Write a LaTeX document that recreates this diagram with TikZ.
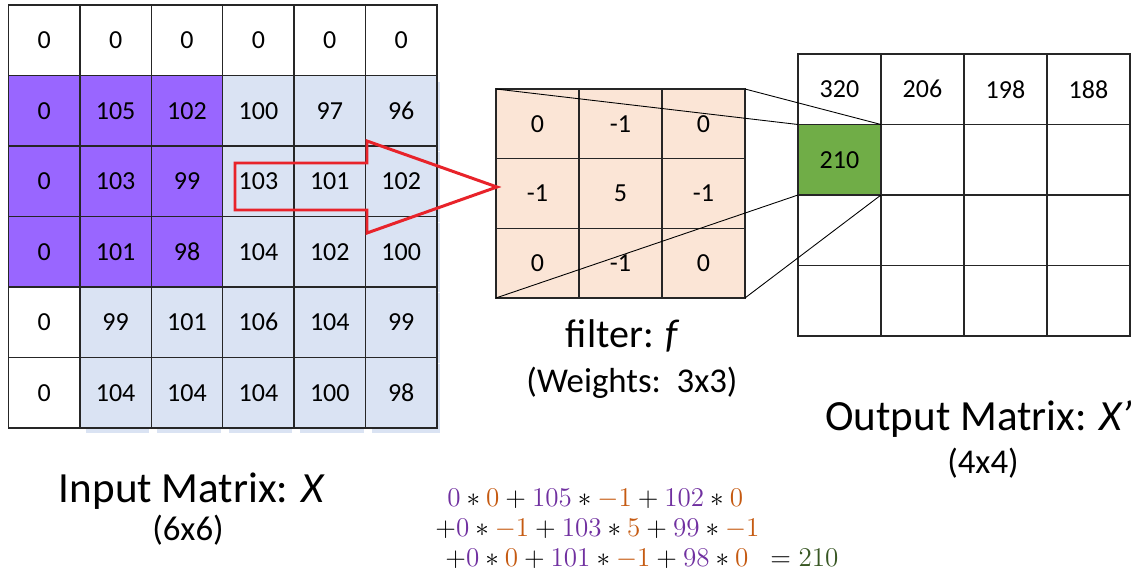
\documentclass[tikz,border=0pt]{standalone}
\usepackage[no-math]{fontspec}
\setmainfont{Carlito}
\usepackage{xcolor}
\usepackage{tikz}
\usetikzlibrary{positioning,calc}
\definecolor{gridLine}{HTML}{262626}
\definecolor{purpleFill}{HTML}{9966FF}
\definecolor{blueFill}{HTML}{DAE3F3}
\definecolor{peachFill}{HTML}{FBE5D6}
\definecolor{greenFill}{HTML}{70AD47}
\definecolor{arrowRed}{HTML}{E8232A}
\definecolor{eqPurple}{HTML}{7030A0}
\definecolor{eqOrange}{HTML}{C55A11}
\definecolor{eqGreen}{HTML}{385723}
\newcommand{\inval}[1]{\textcolor{eqPurple}{#1}}
\newcommand{\wval}[1]{\textcolor{eqOrange}{#1}}
\tikzset{
  cell/.style={
    rectangle, draw=gridLine, line width=0.9pt,
    inner sep=0pt, outer sep=0pt, anchor=north west,
    font=\fontsize{14.8}{16}\selectfont
  },
  in cell/.style={cell, minimum width=1.428cm, minimum height=1.41cm},
  filter cell/.style={cell, fill=peachFill,
    minimum width=1.66cm, minimum height=1.393cm},
  out cell/.style={cell, minimum width=1.66cm, minimum height=1.41cm},
  title label/.style={anchor=base, inner sep=0pt,
    font=\fontsize{24.5}{28}\selectfont},
  filter label/.style={anchor=base, inner sep=0pt,
    font=\fontsize{22.8}{26}\selectfont},
  size label/.style={anchor=base, inner sep=0pt,
    font=\fontsize{19.8}{22}\selectfont},
  eq line/.style={anchor=base west, inner sep=0pt,
    scale=1.07, transform shape,
    font=\fontsize{14.4}{17}\selectfont},
  link/.style={line width=0.5pt, black},
}

\begin{document}
\begin{tikzpicture}
    \useasboundingbox (0,0) rectangle (22.86,-11.46);

    % Input matrix X (zero padded)
    \foreach \rowvals [count=\row from 0] in
      {{0,0,0,0,0,0},{0,105,102,100,97,96},{0,103,99,103,101,102},
       {0,101,98,104,102,100},{0,99,101,106,104,99},{0,104,104,104,100,98}}{
      \foreach \v [count=\col from 0] in \rowvals {
        \pgfmathsetmacro\cx{0.17+\col*1.428}
        \pgfmathsetmacro\cy{-0.10-\row*1.41}
        \def\cellfill{white}
        \ifnum\row>0 \ifnum\col>2 \def\cellfill{blueFill}\fi\fi
        \ifnum\row>3 \ifnum\col>0 \def\cellfill{blueFill}\fi\fi
        \ifnum\row>0 \ifnum\row<4 \ifnum\col<3 \def\cellfill{purpleFill}\fi\fi\fi
        \def\blue{blueFill}
        \ifx\cellfill\blue
          \def\sx{-0.04}\ifnum\col=5 \def\sx{0.06}\fi
          \fill[blueFill] (\cx+0.12,\cy-0.12) rectangle (\cx+1.428+\sx,\cy-1.51);
        \fi
        \node[in cell, fill=\cellfill] (in-\row-\col) at (\cx,\cy) {\v};
      }
    }

    % Filter f
    \foreach \rowvals [count=\row from 0] in {{0,-1,0},{-1,5,-1},{0,-1,0}}{
      \foreach \v [count=\col from 0] in \rowvals {
        \node[filter cell] (f-\row-\col) at ({9.92+\col*1.66},{-1.78-\row*1.393}) {\v};
      }
    }

    % Output matrix X'
    \foreach \rowvals [count=\row from 0] in
      {{320,206,198,188},{210,{},{},{}},{{},{},{},{}},{{},{},{},{}}}{
      \foreach \v [count=\col from 0] in \rowvals {
        \def\cellfill{white}
        \ifnum\row=1 \ifnum\col=0 \def\cellfill{greenFill}\fi\fi
        \node[out cell, fill=\cellfill] (out-\row-\col)
          at ({15.96+\col*1.66},{-1.08-\row*1.41}) {\v};
      }
    }

    % Block arrow over the input rows
    \draw[arrowRed, line width=1.7pt]
      (4.70,-3.26) -- (7.34,-3.26) -- (7.34,-2.82) -- (9.94,-3.74)
      -- (7.34,-4.66) -- (7.34,-4.20) -- (4.70,-4.20) -- cycle;

    % Filter corners to the output cell
    \draw[link] (f-0-0.north west) -- (out-1-0.north west);
    \draw[link] (f-0-2.north east) -- (out-1-0.north east);
    \draw[link] (f-2-0.south west) -- (out-1-0.south west);
    \draw[link] (f-2-2.south east) -- (out-1-0.south east);

    % Labels
    \node[title label] (inname) at (3.84,-10.04) {Input Matrix: \textit{X}};
    \node[size label] (insize) at (3.76,-10.80) {(6x6)};
    \node[filter label] (fname) at (12.46,-6.94) {filter: \textit{f}};
    \node[size label] (fsize) at (12.64,-7.84) {(Weights:\ \ 3x3)};
    \node[title label] (outname) at (19.58,-8.60) {Output Matrix: \textit{X'}};
    \node[size label] (outsize) at (19.66,-9.46) {(4x4)};

    % Worked sum for the green cell
    \node[eq line] (eq1) at (8.94,-10.12)
      {$\inval{0} * \wval{0} + \inval{105} * \wval{-1} + \inval{102} * \wval{0}$};
    \node[eq line] (eq2) at (8.70,-10.72)
      {$+\inval{0} * \wval{-1} + \inval{103} * \wval{5} + \inval{99} * \wval{-1}$};
    \node[eq line] (eq3) at (8.90,-11.32)
      {$+\inval{0} * \wval{0} + \inval{101} * \wval{-1} + \inval{98} * \wval{0}$};
    \node[eq line] (eqres) at (15.40,-11.32) {$= \textcolor{eqGreen}{210}$};
\end{tikzpicture}
\end{document}
